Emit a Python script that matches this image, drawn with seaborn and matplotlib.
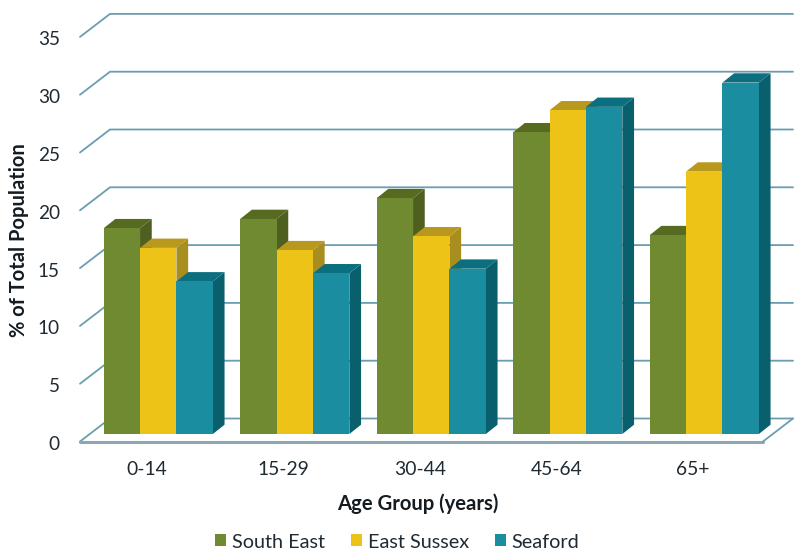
import matplotlib
matplotlib.use("Agg")
import matplotlib.pyplot as plt
from matplotlib.transforms import ScaledTranslation
import pandas as pd
import seaborn as sns

age_groups = ["0-14", "15-29", "30-44", "45-64", "65+"]
south_east = [17.8, 18.6, 20.4, 26.1, 17.2]
east_sussex = [16.1, 15.9, 17.1, 28.0, 22.7]
seaford = [13.2, 13.9, 14.3, 28.3, 30.4]
y_ticks = [0, 5, 10, 15, 20, 25, 30, 35]

FRONT = {"South East": "#6F8A30", "East Sussex": "#EDC318", "Seaford": "#1A8DA0"}
TOP = {"South East": "#566A20", "East Sussex": "#B8991E", "Seaford": "#0B6F80"}
SIDE = {"South East": "#4F5F20", "East Sussex": "#A88E1E", "Seaford": "#0A5F6D"}
GRID = "#6B9DB0"
FLOOR = "#8FA6B2"
TEXT = "#1F2A33"

sns.set_theme(style="white")
plt.rcParams["font.family"] = ["Lato", "DejaVu Sans"]

df = pd.DataFrame({
    "Age": age_groups * 3,
    "Region": ["South East"] * 5 + ["East Sussex"] * 5 + ["Seaford"] * 5,
    "Percent": south_east + east_sussex + seaford,
})

W, H = 800, 553
fig = plt.figure(figsize=(W / 100, H / 100), dpi=100)
ax = fig.add_axes([80 / W, (H - 441.5) / H, 713 / W, 441.5 / H])

sns.barplot(data=df, x="Age", y="Percent", hue="Region", palette=FRONT,
            width=0.8, gap=0, saturation=1, linewidth=0, errorbar=None, ax=ax)

# Scales: one category step is 136.5 px, one percentage point 11.56 px.
px_x = 1 / 136.5
px_y = 1 / 11.56
ax.set_xlim((80 - 158.25) * px_x, (793 - 158.25) * px_x)
ax.set_ylim(-7.5 * px_y, 434 * px_y)

x_left = ax.get_xlim()[0]
x_right = ax.get_xlim()[1]
base = ax.get_ylim()[0]
wall_dx = 30 * px_x
wall_dy = 23 * px_y
wall_scale = 57.8 / 5 * px_y

# Back wall gridlines with their diagonal return along the side wall.
for v in y_ticks:
    y0 = base + v * wall_scale
    ax.plot([x_left, x_left + wall_dx, x_right], [y0, y0 + wall_dy, y0 + wall_dy],
            color=GRID, lw=1.3, zorder=1, clip_on=False, solid_joinstyle="miter")

# Floor outline: front edge is heavier than the return edges.
ax.plot([x_left, x_right - wall_dx], [base, base], color=FLOOR, lw=2.2, zorder=1, clip_on=False)
ax.plot([x_right - wall_dx, x_right], [base, base + wall_dy], color=GRID, lw=1.3, zorder=1, clip_on=False)

# Extrude each bar with a top and a side face, painting left to right.
bar_dx = 11.7 * px_x
bar_dy = 9.3 * px_y
bars = [p for p in ax.patches if p.get_width() > 0 and p.get_height() > 0]
bars.sort(key=lambda p: p.get_x())
regions = list(FRONT)
for i, bar in enumerate(bars):
    x0, w, h = bar.get_x(), bar.get_width(), bar.get_height()
    x1 = x0 + w
    region = next(r for r in regions
                  if matplotlib.colors.same_color(bar.get_facecolor(), FRONT[r]))
    z = 2 + i * 0.01
    ax.fill([x1, x1 + bar_dx, x1 + bar_dx, x1], [0, bar_dy, h + bar_dy, h],
            color=SIDE[region], lw=0, zorder=z)
    ax.fill([x0, x0 + bar_dx, x1 + bar_dx, x1], [h, h + bar_dy, h + bar_dy, h],
            color=TOP[region], lw=0, zorder=z)
    bar.set_zorder(z + 0.005)

sns.despine(ax=ax, left=True, bottom=True)
ax.patch.set_visible(False)
ax.set_yticks(y_ticks)
ax.set_yticklabels([str(v) for v in y_ticks])
ax.tick_params(axis="y", length=0, pad=14.5, labelsize=13.7, labelcolor=TEXT)
ax.tick_params(axis="x", length=0, pad=14, labelsize=13.9, labelcolor=TEXT)

# Labels sit on the front plane of the box, not under the bars themselves.
shift_y = ScaledTranslation(0, -9 / 100, fig.dpi_scale_trans)
for lab in ax.get_yticklabels():
    lab.set_transform(lab.get_transform() + shift_y)
shift_x = ScaledTranslation(-11.5 / 100, 0, fig.dpi_scale_trans)
for lab in ax.get_xticklabels():
    lab.set_transform(lab.get_transform() + shift_x)

ax.set_xlabel("Age Group (years)", fontsize=14.6, fontweight="bold", color="#141C22")
ax.set_ylabel("% of Total Population", fontsize=14.5, fontweight="bold", color="#141C22")
ax.xaxis.set_label_coords(418 / W, 1 - 493 / H, transform=fig.transFigure)
ax.yaxis.set_label_coords(29.5 / W, 1 - 240 / H, transform=fig.transFigure)

handles, labels = ax.get_legend_handles_labels()
ax.legend(handles, labels, ncol=3, frameon=False, loc="center",
          bbox_to_anchor=(397.5 / W, 1 - 542 / H), bbox_transform=fig.transFigure,
          fontsize=14.3, labelcolor=TEXT, handlelength=0.55, handleheight=0.55,
          handletextpad=0.3, columnspacing=1.3, borderpad=0, borderaxespad=0)

fig.savefig("out.png", dpi=100, facecolor="white")
